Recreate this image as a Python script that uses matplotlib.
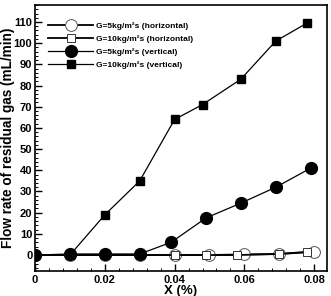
import matplotlib.pyplot as plt
from matplotlib.ticker import MultipleLocator

plt.rcParams['font.family'] = ['Liberation Sans', 'DejaVu Sans']
plt.rcParams['font.weight'] = 'bold'

x_c5h = [0, 0.01, 0.02, 0.03, 0.04, 0.05, 0.06, 0.07, 0.08]
y_c5h = [0, 0, 0, 0, 0, 0, 0.3, 0.5, 1.5]
x_s10h = [0, 0.01, 0.02, 0.03, 0.04, 0.049, 0.058, 0.07, 0.078]
y_s10h = [0, 0, 0, 0, 0, 0, 0, 0.5, 1.5]
x_c5v = [0, 0.01, 0.02, 0.03, 0.039, 0.049, 0.059, 0.069, 0.079]
y_c5v = [0, 0.5, 0.5, 0.5, 6, 17.5, 24.5, 32, 41]
x_s10v = [0, 0.01, 0.02, 0.03, 0.04, 0.048, 0.059, 0.069, 0.078]
y_s10v = [0, 0, 19, 35, 64, 71, 83, 101, 109.5]

labels = ['G=5kg/m²s (horizontal)', 'G=10kg/m²s (horizontal)',
          'G=5kg/m²s (vertical)', 'G=10kg/m²s (vertical)']
xticklabels = ['0', '0.02', '0.04', '0.06', '0.08']

fig = plt.figure(figsize=(3.31, 2.96), dpi=100)
ax = fig.add_axes([0.106, 0.084, 0.882, 0.899])

ax.plot(x_c5h, y_c5h, color='black', lw=1.3, marker='o', ms=8.5,
        mfc='white', mec='#555555', mew=0.7, label=labels[0])
ax.plot(x_s10h, y_s10h, color='black', lw=1.3, marker='s', ms=6,
        mfc='white', mec='#333333', mew=0.7, label=labels[1])
ax.plot(x_c5v, y_c5v, color='black', lw=0.9, marker='o', ms=8.5,
        mfc='black', mec='black', label=labels[2])
ax.plot(x_s10v, y_s10v, color='black', lw=0.9, marker='s', ms=5.5,
        mfc='black', mec='black', label=labels[3])

ax.set_xlim(0, 0.0837)
ax.set_ylim(-7.6, 118)
ax.set_xticks([0, 0.02, 0.04, 0.06, 0.08])
ax.set_xticklabels(xticklabels)
ax.xaxis.set_minor_locator(MultipleLocator(0.004))
ax.yaxis.set_major_locator(MultipleLocator(10))
ax.yaxis.set_minor_locator(MultipleLocator(2))
ax.tick_params(which='both', direction='in', labelsize=8)
ax.tick_params(axis='x', pad=3)
ax.tick_params(axis='y', pad=2)
ax.tick_params(which='major', length=5, width=1)
ax.tick_params(which='minor', length=2.5, width=0.7)
for s in ax.spines.values():
    s.set_linewidth(1.2)

ax.set_xlabel('X (%)', fontsize=9.5, fontweight='bold', labelpad=0)
ax.set_ylabel('Flow rate of residual gas (mL/min)', fontsize=9.8, fontweight='bold',
              va='center')
ax.yaxis.set_label_coords(-0.092, 0.5)

leg = ax.legend(loc='upper left', frameon=False, fontsize=6, handlelength=5.3,
                handletextpad=0.4, labelspacing=0.62, bbox_to_anchor=(0.02, 0.965))
for t in leg.get_texts():
    t.set_fontweight('bold')

fig.savefig('out.png', dpi=100)
